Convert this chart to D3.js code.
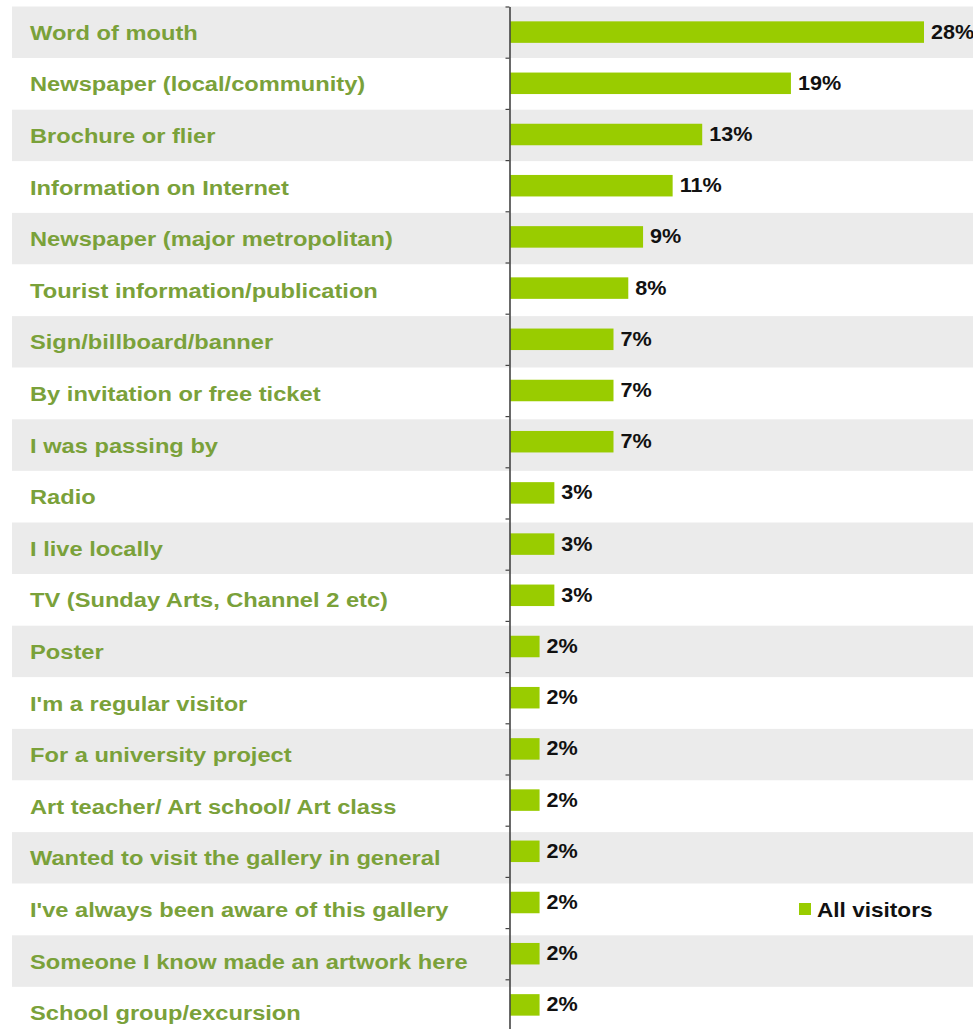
<!DOCTYPE html>
<html>
<head>
<meta charset="utf-8">
<script src="https://cdn.jsdelivr.net/npm/d3@7/dist/d3.min.js"></script>
<style>
  html, body { margin: 0; padding: 0; background: #ffffff; }
  svg { display: block; }
  text { font-family: "Liberation Sans", Arial, sans-serif; font-weight: bold; }
</style>
</head>
<body>
<svg id="chart" width="973" height="1029"></svg>
<script>
// How visitors heard about the gallery (share of all visitors, %)
const categories = [
  "Word of mouth",
  "Newspaper (local/community)",
  "Brochure or flier",
  "Information on Internet",
  "Newspaper (major metropolitan)",
  "Tourist information/publication",
  "Sign/billboard/banner",
  "By invitation or free ticket",
  "I was passing by",
  "Radio",
  "I live locally",
  "TV (Sunday Arts, Channel 2 etc)",
  "Poster",
  "I'm a regular visitor",
  "For a university project",
  "Art teacher/ Art school/ Art class",
  "Wanted to visit the gallery in general",
  "I've always been aware of this gallery",
  "Someone I know made an artwork here",
  "School group/excursion"
];
const allVisitors = [28, 19, 13, 11, 9, 8, 7, 7, 7, 3, 3, 3, 2, 2, 2, 2, 2, 2, 2, 2];
const seriesName = "All visitors";

const W = 973, H = 1029;
const svg = d3.select("#chart");

// Background table rows (striped) carrying the category labels
const yRow = d3.scaleBand().domain(d3.range(categories.length)).range([6.5, 6.5 + 51.6 * categories.length]).padding(0);
// Plot rows for the bars
const yBar = d3.scaleBand().domain(d3.range(categories.length)).range([6.5, 6.5 + 51.2 * categories.length]).paddingInner(0.58).paddingOuter(0.29);
const yEdge = d3.scaleLinear().domain([0, categories.length]).range([6.5, 6.5 + 51.2 * categories.length]);
const x = d3.scaleLinear().domain([0, 28]).range([510, 924]);

const rows = svg.append("g").attr("class", "rows");
rows.selectAll("rect")
  .data(categories)
  .join("rect")
  .attr("x", 12)
  .attr("y", (d, i) => yRow(i))
  .attr("width", W - 12)
  .attr("height", yRow.bandwidth())
  .attr("fill", (d, i) => i % 2 === 0 ? "#ebebeb" : "#ffffff");

rows.selectAll("text")
  .data(categories)
  .join("text")
  .attr("transform", (d, i) => `translate(30,${yRow(i) + yRow.bandwidth() / 2 + 7.5}) scale(1.155,1)`)
  .attr("font-size", 20.5)
  .attr("fill", "#7aa13a")
  .text(d => d);

// Bars
svg.append("g").attr("class", "bars")
  .selectAll("rect")
  .data(allVisitors)
  .join("rect")
  .attr("x", x(0))
  .attr("y", (d, i) => yBar(i))
  .attr("width", d => x(d) - x(0))
  .attr("height", yBar.bandwidth())
  .attr("fill", "#99cc00");

// Value labels
svg.append("g").attr("class", "values")
  .selectAll("text")
  .data(allVisitors)
  .join("text")
  .attr("transform", (d, i) => `translate(${x(d) + 7},${yBar(i) + yBar.bandwidth() / 2 + 6.5}) scale(1.08,1)`)
  .attr("font-size", 20)
  .attr("fill", "#111111")
  .text(d => d + "%");

// Category axis with small ticks between rows
const axis = d3.axisLeft(yEdge)
  .tickValues(d3.range(categories.length + 1))
  .tickSize(4)
  .tickSizeOuter(0)
  .tickFormat("");
const gAxis = svg.append("g").attr("transform", "translate(509.5,0)").call(axis);
gAxis.select(".domain").attr("stroke", "#444444").attr("stroke-width", 1.6);
gAxis.selectAll(".tick line").attr("stroke", "#444444").attr("stroke-width", 1.2);

// Legend
const legend = svg.append("g").attr("class", "legend").attr("transform", "translate(799,903)");
legend.append("rect").attr("width", 12).attr("height", 12).attr("fill", "#99cc00");
legend.append("text")
  .attr("transform", "translate(18,14) scale(1.13,1)")
  .attr("font-size", 20)
  .attr("fill", "#111111")
  .text(seriesName);
</script>
</body>
</html>
